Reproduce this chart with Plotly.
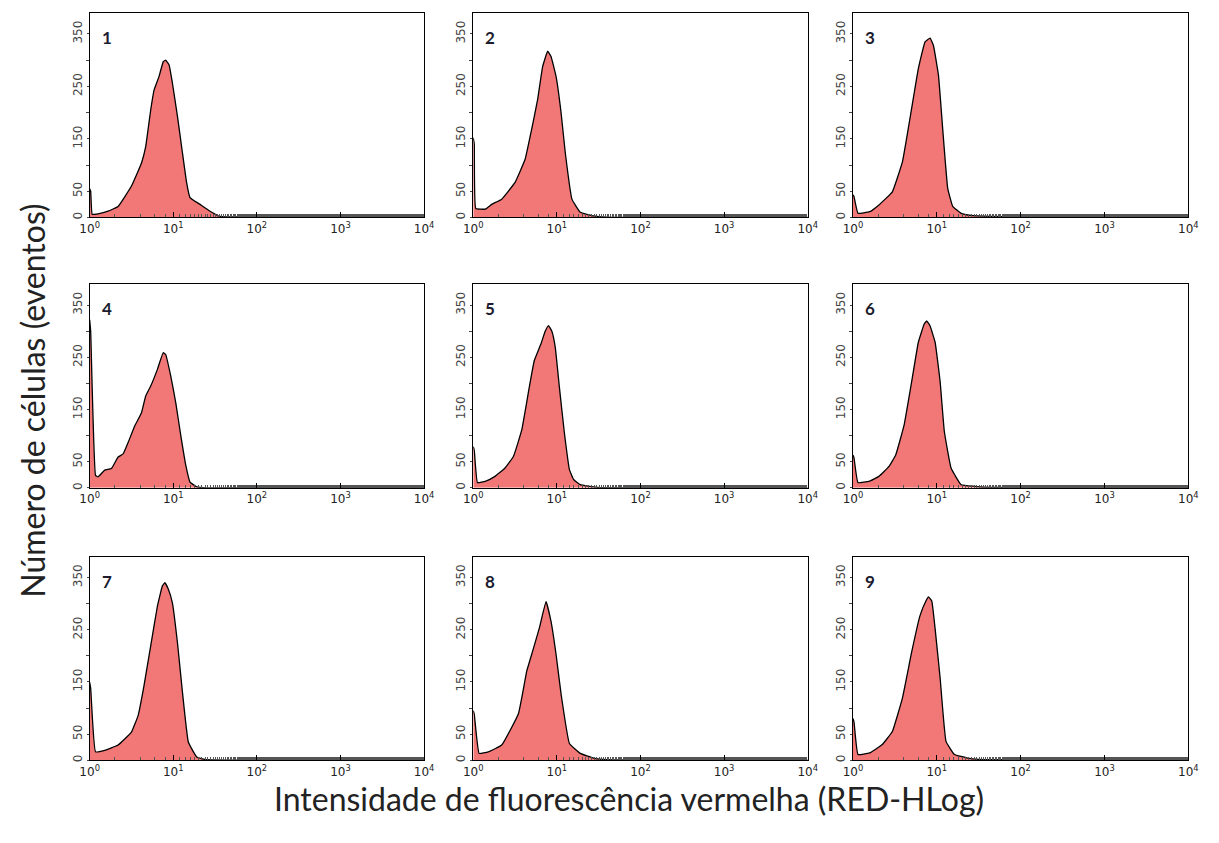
import plotly.graph_objects as go

# Histogram outlines: decades (log10 of intensity) and cell counts
p1_dec = [0, 0.012, 0.03, 0.1, 0.22, 0.34, 0.5, 0.62, 0.67, 0.73, 0.77, 0.83, 0.88, 0.91, 0.95, 0.99, 1.05, 1.11, 1.16, 1.2, 1.32, 1.44, 1.56, 1.7, 2.5, 4.0]
p1_cnt = [55, 50, 6, 7, 12, 21, 60, 104, 135, 205, 243, 269, 297, 300, 291, 256, 193, 123, 66, 38, 25, 12, 2, 1, 1, 0]

p2_dec = [0, 0.012, 0.03, 0.145, 0.22, 0.34, 0.5, 0.62, 0.69, 0.77, 0.83, 0.89, 0.93, 0.99, 1.05, 1.1, 1.18, 1.28, 1.44, 1.65, 4.0]
p2_cnt = [152, 140, 17, 16, 25, 35, 67, 111, 162, 225, 288, 317, 307, 269, 200, 124, 35, 10, 3, 0, 0]

p3_dec = [0, 0.012, 0.06, 0.2, 0.31, 0.47, 0.59, 0.7, 0.78, 0.86, 0.92, 0.96, 1.02, 1.07, 1.13, 1.19, 1.29, 1.41, 1.64, 2.0, 4.0]
p3_cnt = [43, 40, 8, 11, 24, 49, 106, 208, 284, 335, 342, 328, 271, 170, 56, 21, 8, 4, 2, 1, 0]

p4_dec = [0, 0.012, 0.07, 0.1, 0.18, 0.26, 0.34, 0.4, 0.46, 0.54, 0.62, 0.67, 0.73, 0.81, 0.88, 0.91, 0.97, 1.03, 1.09, 1.15, 1.2, 1.28, 1.4, 4.0]
p4_cnt = [322, 300, 24, 21, 34, 37, 59, 65, 87, 119, 144, 176, 195, 227, 259, 255, 214, 163, 100, 43, 11, 2, 0, 0]

p5_dec = [0, 0.012, 0.05, 0.15, 0.26, 0.38, 0.48, 0.58, 0.67, 0.73, 0.81, 0.86, 0.9, 0.94, 0.98, 1.03, 1.09, 1.15, 1.2, 1.28, 1.48, 4.0]
p5_cnt = [79, 72, 10, 13, 22, 38, 60, 111, 193, 244, 276, 300, 311, 300, 270, 193, 105, 35, 16, 6, 1, 0]

p6_dec = [0, 0.012, 0.06, 0.2, 0.31, 0.43, 0.51, 0.61, 0.7, 0.78, 0.85, 0.88, 0.92, 0.98, 1.04, 1.09, 1.17, 1.29, 1.45, 1.64, 4.0]
p6_cnt = [63, 58, 10, 13, 22, 41, 63, 120, 203, 279, 314, 320, 310, 279, 203, 108, 38, 6, 3, 1, 0]

p7_dec = [0, 0.012, 0.07, 0.18, 0.34, 0.5, 0.58, 0.65, 0.73, 0.81, 0.87, 0.9, 0.94, 0.99, 1.05, 1.11, 1.18, 1.28, 1.4, 4.0]
p7_cnt = [149, 138, 16, 19, 29, 54, 86, 143, 219, 295, 334, 340, 328, 301, 225, 130, 35, 6, 1, 0]

p8_dec = [0, 0.012, 0.07, 0.18, 0.34, 0.54, 0.64, 0.71, 0.79, 0.87, 0.93, 0.99, 1.05, 1.15, 1.28, 1.44, 1.6, 4.0]
p8_cnt = [95, 88, 13, 16, 29, 89, 171, 209, 253, 304, 266, 203, 127, 32, 13, 4, 1, 0]

p9_dec = [0, 0.012, 0.06, 0.2, 0.35, 0.47, 0.59, 0.7, 0.8, 0.87, 0.9, 0.94, 0.98, 1.04, 1.11, 1.21, 1.37, 1.56, 4.0]
p9_cnt = [80, 74, 11, 14, 30, 55, 119, 207, 277, 305, 313, 305, 252, 157, 36, 11, 4, 1, 0]

panel_labels = ["1", "2", "3", "4", "5", "6", "7", "8", "9"]
x_tickvals = [1, 10, 100, 1000, 10000]
x_ticktext = ["10<sup>0</sup>", "10<sup>1</sup>", "10<sup>2</sup>", "10<sup>3</sup>", "10<sup>4</sup>"]
y_tickvals = [0, 50, 150, 250, 350]
y_ticktext = ["0", "50", "150", "250", "350"]
y_minor_vals = [100, 200, 300]
x_title = "Intensidade de fluorescência vermelha (RED-HLog)"
y_title = "Número de células (eventos)"

panels = [(p1_dec, p1_cnt), (p2_dec, p2_cnt), (p3_dec, p3_cnt),
          (p4_dec, p4_cnt), (p5_dec, p5_cnt), (p6_dec, p6_cnt),
          (p7_dec, p7_cnt), (p8_dec, p8_cnt), (p9_dec, p9_cnt)]

W, H = 1219, 843
col_px = [(81, 421), (471, 811), (857, 1198)]
row_px = [(13, 218), (285, 489), (558, 762)]

fig = go.Figure()
for i, (dec, cnt) in enumerate(panels):
    r, c = divmod(i, 3)
    n = i + 1
    xa = "x" if n == 1 else f"x{n}"
    ya = "y" if n == 1 else f"y{n}"
    fig.add_trace(go.Scatter(
        x=[10 ** d for d in dec], y=cnt, mode="lines",
        line=dict(color="black", width=1.3, shape="spline", smoothing=0.3),
        fill="tozeroy", fillcolor="#F27878",
        xaxis=xa, yaxis=ya, showlegend=False, hoverinfo="skip"))
    x0, x1 = col_px[c]
    y0, y1 = row_px[r]
    xkey = "xaxis" if n == 1 else f"xaxis{n}"
    ykey = "yaxis" if n == 1 else f"yaxis{n}"
    fig.update_layout(**{
        xkey: dict(domain=[x0 / W, x1 / W], type="log", range=[0, 4],
                   anchor=ya, tickvals=x_tickvals, ticktext=x_ticktext,
                   showline=True, linecolor="black", linewidth=1.2, mirror=True,
                   ticks="inside", ticklen=5, tickcolor="black",
                   minor=dict(ticks="inside", ticklen=3, tickcolor="#555",
                              showgrid=False),
                   showgrid=False, zeroline=False,
                   tickfont=dict(family="DejaVu Sans", size=12, color="#222")),
        ykey: dict(domain=[1 - y1 / H, 1 - y0 / H], range=[0, 390],
                   anchor=xa, tickvals=y_tickvals, ticktext=y_ticktext,
                   tickangle=-90,
                   showline=True, linecolor="black", linewidth=1.2, mirror=True,
                   ticks="outside", ticklen=2, tickcolor="#444",
                   minor=dict(tickvals=y_minor_vals, ticks="outside", ticklen=3,
                              tickcolor="#444", showgrid=False),
                   showgrid=False, zeroline=False,
                   tickfont=dict(family="DejaVu Sans", size=12, color="#444")),
    })
    fig.add_annotation(text=f"<b>{panel_labels[i]}</b>", xref=f"{xa} domain",
                       yref=f"{ya} domain", x=0.03, y=0.88, xanchor="left",
                       yanchor="middle", showarrow=False,
                       font=dict(family="Lato", size=17, color="#1c1c2e"))

fig.add_annotation(text=x_title, xref="paper", yref="paper", x=629 / W, y=1 - 800 / H,
                   xanchor="center", yanchor="middle", showarrow=False,
                   font=dict(family="Lato", size=32, color="#222"))
fig.add_annotation(text=y_title, xref="paper", yref="paper", x=22 / W, y=1 - 402 / H,
                   xanchor="center", yanchor="middle", showarrow=False, textangle=-90,
                   font=dict(family="Lato", size=32, color="#222"))

fig.update_layout(width=W, height=H, margin=dict(l=0, r=0, t=0, b=0),
                  paper_bgcolor="white", plot_bgcolor="white")
fig.write_html("out.html")
